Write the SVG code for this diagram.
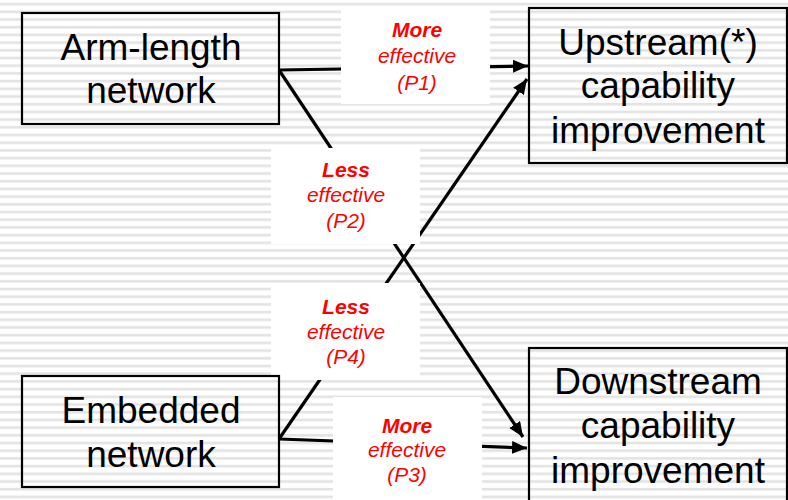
<svg xmlns="http://www.w3.org/2000/svg" width="788" height="500" viewBox="0 0 788 500">
<style>
.box{fill:none;stroke:#000;stroke-width:2.2}
.nt{font-family:"Liberation Sans",Arial,sans-serif;font-size:37px;fill:#000;text-anchor:middle}
.lb{fill:#fff;stroke:none}
.lt{font-family:"Liberation Sans",Arial,sans-serif;font-size:21px;fill:#ff0000;text-anchor:middle;font-style:italic}
.b{font-weight:bold}
.cn{stroke:#000;stroke-width:3.2;fill:none;marker-end:url(#ah)}
</style>
<defs>
<pattern id="stripes" width="8" height="7.7" patternUnits="userSpaceOnUse">
<rect width="8" height="7.7" fill="#fff"/>
<rect y="2.8" width="8" height="2.6" fill="#e3e3e3"/>
</pattern>
<marker id="ah" markerUnits="userSpaceOnUse" markerWidth="16" markerHeight="14" refX="15" refY="6.5" orient="auto">
<path d="M0,0 L15,6.5 L0,13 z" fill="#000"/>
</marker>
</defs>
<rect width="788" height="500" fill="url(#stripes)"/>
<g id="connectors">
<path class="cn" d="M279,70 L528,66"/>
<path class="cn" d="M279,70 L523,437"/>
<path class="cn" d="M279,439 L527,79"/>
<path class="cn" d="M279,439 L527,448"/>
</g>
<g id="label-p1">
<rect class="lb" x="341" y="10" width="149" height="94"/>
<text class="lt b" x="417" y="37">More</text>
<text class="lt" x="417" y="63">effective</text>
<text class="lt" x="417" y="90">(P1)</text>
</g>
<g id="label-p2">
<rect class="lb" x="271" y="148" width="149" height="96"/>
<text class="lt b" x="346" y="177">Less</text>
<text class="lt" x="346" y="202">effective</text>
<text class="lt" x="346" y="228">(P2)</text>
</g>
<g id="label-p4">
<rect class="lb" x="271" y="283" width="149" height="97"/>
<text class="lt b" x="346" y="314">Less</text>
<text class="lt" x="346" y="339">effective</text>
<text class="lt" x="346" y="364">(P4)</text>
</g>
<g id="label-p3">
<rect class="lb" x="333" y="397" width="149" height="103"/>
<text class="lt b" x="407" y="433">More</text>
<text class="lt" x="407" y="457">effective</text>
<text class="lt" x="407" y="482">(P3)</text>
</g>
<g id="arm-length">
<rect class="box" x="22" y="13" width="257" height="111"/>
<text class="nt" x="151" y="60">Arm-length</text>
<text class="nt" x="151" y="103">network</text>
</g>
<g id="embedded">
<rect class="box" x="22" y="376" width="257" height="111"/>
<text class="nt" x="151" y="423">Embedded</text>
<text class="nt" x="151" y="467">network</text>
</g>
<g id="upstream">
<rect class="box" x="529" y="8" width="258" height="155"/>
<text class="nt" x="658" y="55">Upstream(*)</text>
<text class="nt" x="658" y="98">capability</text>
<text class="nt" x="658" y="143">improvement</text>
</g>
<g id="downstream">
<rect class="box" x="529" y="348" width="258" height="160"/>
<text class="nt" x="658" y="394">Downstream</text>
<text class="nt" x="658" y="438">capability</text>
<text class="nt" x="658" y="483">improvement</text>
</g>
</svg>
